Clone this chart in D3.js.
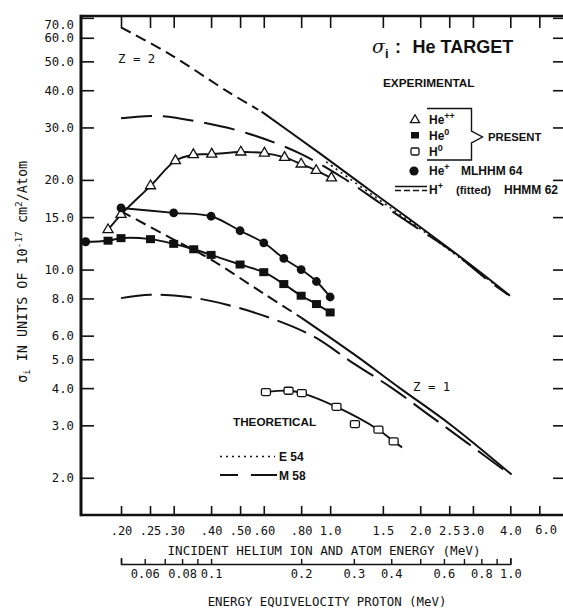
<!DOCTYPE html>
<html>
<head>
<meta charset="utf-8">
<script src="https://cdn.jsdelivr.net/npm/d3@7"></script>
<style>
  html, body { margin: 0; padding: 0; background: #fff; }
  svg { display: block; }
</style>
</head>
<body>
<svg id="chart" width="563" height="609"></svg>
<script>
// ---------- axis ticks ----------
const heliumTicks = [0.20, 0.25, 0.30, 0.40, 0.50, 0.60, 0.80, 1.0, 1.5, 2.0, 2.5, 3.0, 4.0, 5.0];
const heliumTickLabels = [".20", ".25", ".30", ".40", ".50", ".60", ".80", "1.0", "1.5", "2.0", "2.5", "3.0", "4.0", ""];
const heliumEnd = [6.0];
const heliumEndLabel = ["6.0"];
const protonTicks = [0.05, 0.06, 0.07, 0.08, 0.09, 0.1, 0.2, 0.3, 0.4, 0.5, 0.6, 0.7, 0.8, 0.9, 1.0];
const protonTickLabels = ["", "0.06", "", "0.08", "", "0.1", "0.2", "0.3", "0.4", "", "0.6", "", "0.8", "", "1.0"];
const sigmaTicks = [70, 60, 50, 40, 30, 20, 15, 10, 8, 6, 5, 4, 3, 2];
const sigmaTickLabels = ["70.0", "60.0", "50.0", "40.0", "30.0", "20.0", "15.0", "10.0", "8.0", "6.0", "5.0", "4.0", "3.0", "2.0"];

// ---------- experimental cross sections [energy MeV, sigma 1e-17 cm^2] ----------
const heDoublePlus = [[0.181, 13.6], [0.20, 15.3], [0.251, 19.1], [0.304, 23.2], [0.349, 24.3], [0.402, 24.4],
                      [0.503, 24.8], [0.603, 24.6], [0.704, 23.8], [0.80, 22.6], [0.898, 21.5], [1.01, 20.3]];
const heZeroLow = [[0.150, 12.4]];
const heZero = [[0.181, 12.5], [0.20, 12.75], [0.251, 12.65], [0.30, 12.2], [0.35, 11.7], [0.40, 11.2],
                [0.50, 10.4], [0.60, 9.8], [0.70, 8.94], [0.80, 8.17], [0.90, 7.66], [1.0, 7.18]];
const hZero = [[0.61, 3.88], [0.726, 3.92], [0.804, 3.85], [1.05, 3.46], [1.21, 3.03], [1.45, 2.9], [1.63, 2.65]];
const hZeroFit = [[0.61, 3.88], [0.726, 3.92], [0.804, 3.85], [1.05, 3.46], [1.45, 2.9], [1.63, 2.65], [1.74, 2.53]];
const hePlus = [[0.20, 16.1], [0.30, 15.5], [0.40, 15.1], [0.50, 13.5], [0.60, 12.3], [0.70, 10.9],
                [0.80, 10.0], [0.90, 9.12], [1.0, 8.09]];

// ---------- theoretical and fitted curves ----------
const z2Extrapolated = [[0.20, 65.0], [0.288, 53.2], [0.456, 39.5], [0.575, 34.4]];
const z2Fitted = [[0.59, 33.9], [0.926, 24.5], [1.26, 19.5], [1.71, 15.6], [2.94, 10.4], [3.99, 8.17]];
const z1Extrapolated = [[0.20, 15.7], [0.30, 12.6], [0.40, 10.8], [0.60, 8.3], [0.80, 6.9]];
const z1Fitted = [[0.80, 6.9], [1.2, 5.2], [1.71, 4.0], [2.52, 3.02], [4.04, 2.05]];
const m58Z2 = [[0.20, 32.2], [0.266, 32.8], [0.36, 31.4], [0.528, 28.7], [0.788, 24.6], [1.106, 20.3],
               [1.47, 16.7], [1.95, 13.8], [2.56, 11.5], [3.35, 9.24], [3.93, 8.24]];
const m58Z1 = [[0.20, 8.02], [0.251, 8.23], [0.336, 8.09], [0.452, 7.62], [0.63, 6.88], [0.878, 5.97],
               [1.19, 4.86], [1.61, 4.0], [2.13, 3.26], [2.87, 2.62], [3.99, 2.05]];
const e54 = [[0.97, 23.0], [1.5, 16.8], [2.0, 13.7], [3.0, 10.15], [3.95, 8.2]];

// ---------- setup ----------
const INK = "#111";
const MONO = "'DejaVu Sans Mono', monospace";
const SANS = "'Liberation Sans', Arial, sans-serif";
const svg = d3.select("#chart");

const x = d3.scaleLog().domain([0.147, 6.0]).range([81, 563]);
const y = d3.scaleLog().domain([1.5, 71]).range([515, 16]);
const xp = d3.scaleLog().domain([0.05, 1.0]).range([x(0.2), x(4.0)]);

const line = d3.line()
  .x(d => x(d[0])).y(d => y(d[1]))
  .curve(d3.curveCatmullRom.alpha(0.5));

function styleAxis(g, fontSize) {
  g.select(".domain").remove();
  g.selectAll(".tick line").attr("stroke", INK).attr("stroke-width", 1.6);
  g.selectAll(".tick text").attr("fill", INK)
    .style("font-family", MONO).style("font-size", fontSize + "px");
}

// ---------- axes ----------
const axisB = svg.append("g").attr("transform", "translate(0,515)")
  .call(d3.axisBottom(x).tickValues(heliumTicks).tickSize(-9).tickPadding(11)
    .tickFormat((d, i) => heliumTickLabels[i]));
styleAxis(axisB, 12);

svg.append("g").selectAll("text").data(heliumEnd).join("text")
  .attr("x", d => x(d) - 6).attr("y", 534)
  .attr("text-anchor", "end").attr("fill", INK)
  .style("font-family", MONO).style("font-size", "12px")
  .text((d, i) => heliumEndLabel[i]);

const axisT = svg.append("g").attr("transform", "translate(0,16)")
  .call(d3.axisTop(x).tickValues(heliumTicks).tickSize(-12).tickFormat(""));
styleAxis(axisT, 12);

const axisL = svg.append("g").attr("transform", "translate(81,0)")
  .call(d3.axisLeft(y).tickValues(sigmaTicks).tickSize(-13).tickPadding(7)
    .tickFormat((d, i) => sigmaTickLabels[i]));
styleAxis(axisL, 12.3);
axisL.selectAll(".tick text").filter(d => d === 70).attr("dy", "0.85em");

const axisR = svg.append("g").attr("transform", "translate(563,0)")
  .call(d3.axisRight(y).tickValues(sigmaTicks).tickSize(-10).tickFormat(""));
styleAxis(axisR, 12);

// equivelocity proton scale
const axisP = svg.append("g").attr("transform", "translate(0,564)")
  .call(d3.axisBottom(xp).tickValues(protonTicks).tickSize(-5).tickSizeOuter(-6).tickPadding(5)
    .tickFormat((d, i) => protonTickLabels[i]));
axisP.select(".domain").attr("stroke", INK).attr("stroke-width", 1.5).attr("fill", "none");
axisP.selectAll(".tick line").attr("stroke", INK).attr("stroke-width", 1.4);
axisP.selectAll(".tick text").attr("fill", INK).style("font-family", MONO).style("font-size", "12px");

// frame
const frame = svg.append("g").attr("stroke", INK).attr("fill", "none");
frame.append("line").attr("x1", x.range()[0]).attr("x2", x.range()[1] + 2)
  .attr("y1", y.range()[0]).attr("y2", y.range()[0]).attr("stroke-width", 2.6);
frame.append("line").attr("x1", x.range()[0]).attr("x2", x.range()[1] + 2)
  .attr("y1", y.range()[1]).attr("y2", y.range()[1]).attr("stroke-width", 2.6);
frame.append("line").attr("x1", x.range()[0]).attr("x2", x.range()[0])
  .attr("y1", y.range()[1] - 1.3).attr("y2", y.range()[0] + 1.3).attr("stroke-width", 3);

// axis titles
svg.append("text").attr("x", 324).attr("y", 555).attr("text-anchor", "middle")
  .attr("fill", INK).style("font-family", MONO).style("font-size", "12.7px")
  .text("INCIDENT HELIUM ION AND ATOM ENERGY (MeV)");
svg.append("text").attr("x", 327).attr("y", 606).attr("text-anchor", "middle")
  .attr("fill", INK).style("font-family", MONO).style("font-size", "12.4px")
  .text("ENERGY EQUIVELOCITY PROTON (MeV)");

const yt = svg.append("text").attr("transform", "translate(27,272) rotate(-90)")
  .attr("text-anchor", "middle").attr("fill", INK)
  .style("font-family", MONO).style("font-size", "13.4px");
yt.append("tspan").text("σ");
yt.append("tspan").attr("dy", 3).style("font-size", "9.5px").text("i");
yt.append("tspan").attr("dy", -3).text(" IN UNITS OF 10");
yt.append("tspan").attr("dy", -5).style("font-size", "9.5px").text("-17");
yt.append("tspan").attr("dy", 5).text(" cm");
yt.append("tspan").attr("dy", -5).style("font-size", "9.5px").text("2");
yt.append("tspan").attr("dy", 5).text("/Atom");

// ---------- theoretical curves ----------
const curves = svg.append("g").attr("fill", "none").attr("stroke", INK).attr("stroke-width", 2);
curves.append("path").attr("d", line(z2Extrapolated)).attr("stroke-dasharray", "11,6");
curves.append("path").attr("d", line(z2Fitted));
curves.append("path").attr("d", line(z1Extrapolated)).attr("stroke-dasharray", "11,6");
curves.append("path").attr("d", line(z1Fitted));
curves.append("path").attr("d", line(m58Z2)).attr("stroke-dasharray", "31,11");
curves.append("path").attr("d", line(m58Z1)).attr("stroke-dasharray", "31,9");
curves.append("path").attr("d", line(e54)).attr("stroke-dasharray", "2,4").attr("stroke-width", 1.6);

// ---------- experimental curves ----------
const expCurves = svg.append("g").attr("fill", "none").attr("stroke", INK).attr("stroke-width", 1.9);
expCurves.append("path").attr("d", line(heDoublePlus));
expCurves.append("path").attr("d", line(heZeroLow.concat(heZero)));
expCurves.append("path").attr("d", line(hePlus));
expCurves.append("path").attr("d", line(hZeroFit));

// markers
const tri = d3.symbol().type(d3.symbolTriangle).size(44);
const marks = svg.append("g");
marks.selectAll(".tri").data(heDoublePlus).join("path").attr("class", "tri")
  .attr("transform", d => `translate(${x(d[0])},${y(d[1])})`)
  .attr("d", tri).attr("fill", "#fff").attr("stroke", INK).attr("stroke-width", 1.3);
marks.selectAll(".sqf").data(heZero).join("rect").attr("class", "sqf")
  .attr("x", d => x(d[0]) - 4.5).attr("y", d => y(d[1]) - 4).attr("width", 9).attr("height", 8)
  .attr("fill", INK);
marks.selectAll(".dotLow").data(heZeroLow).join("circle").attr("class", "dotLow")
  .attr("cx", d => x(d[0]) + 2).attr("cy", d => y(d[1])).attr("r", 4.5).attr("fill", INK);
marks.selectAll(".dot").data(hePlus).join("circle").attr("class", "dot")
  .attr("cx", d => x(d[0])).attr("cy", d => y(d[1])).attr("r", 4.4).attr("fill", INK);
marks.selectAll(".sqo").data(hZero).join("rect").attr("class", "sqo")
  .attr("x", d => x(d[0]) - 4.5).attr("y", d => y(d[1]) - 3.5).attr("width", 9).attr("height", 7)
  .attr("rx", 1.5).attr("fill", "#fff").attr("stroke", INK).attr("stroke-width", 1.3);

// ---------- annotations ----------
function label(xp_, yp_, txt, size, family, weight) {
  return svg.append("text").attr("x", xp_).attr("y", yp_).attr("fill", INK)
    .style("font-family", family).style("font-size", size + "px")
    .style("font-weight", weight || "normal").text(txt);
}
label(118, 63, "Z = 2", 12.4, MONO);
label(413, 391, "Z = 1", 12.4, MONO);

// title
const title = svg.append("text").attr("x", 372).attr("y", 53).attr("fill", INK)
  .style("font-family", SANS).style("font-weight", "bold").style("font-size", "18px");
title.append("tspan").style("font-family", "'DejaVu Serif', serif").style("font-style", "italic")
  .style("font-weight", "normal").style("font-size", "19px").text("σ");
title.append("tspan").attr("dy", 5).style("font-size", "13px").text("i");
title.append("tspan").attr("x", 395).attr("dy", -5).text(":");
title.append("tspan").attr("x", 412.5).text("He TARGET");

label(383, 87, "EXPERIMENTAL", 11.8, SANS, "bold");

// legend: experimental
const lg = svg.append("g");
lg.append("path").attr("transform", "translate(415,120)").attr("d", d3.symbol().type(d3.symbolTriangle).size(36))
  .attr("fill", "#fff").attr("stroke", INK).attr("stroke-width", 1.3);
lg.append("rect").attr("x", 411).attr("y", 132).attr("width", 8).attr("height", 6.5).attr("fill", INK);
lg.append("rect").attr("x", 411).attr("y", 148).attr("width", 8).attr("height", 7).attr("rx", 1.5)
  .attr("fill", "#fff").attr("stroke", INK).attr("stroke-width", 1.3);
lg.append("circle").attr("cx", 414).attr("cy", 171).attr("r", 4.6).attr("fill", INK);
lg.append("line").attr("x1", 395).attr("x2", 427).attr("y1", 186.5).attr("y2", 186.5)
  .attr("stroke", INK).attr("stroke-width", 1.5);
lg.append("line").attr("x1", 395).attr("x2", 427).attr("y1", 190.5).attr("y2", 190.5)
  .attr("stroke", INK).attr("stroke-width", 1.5).attr("stroke-dasharray", "6,3");

function legendText(xx, yy, base, sup) {
  const t = svg.append("text").attr("x", xx).attr("y", yy).attr("fill", INK)
    .style("font-family", SANS).style("font-weight", "bold").style("font-size", "12px");
  t.append("tspan").text(base);
  t.append("tspan").attr("dy", -5).style("font-size", "9px").text(sup);
  return t;
}
legendText(429, 124, "He", "++");
legendText(429, 140, "He", "0");
legendText(429, 156, "H", "0");
legendText(429, 175, "He", "+");
legendText(429, 194, "H", "+");
label(461, 175, "MLHHM 64", 12, SANS, "bold");
label(456, 194, "(fitted)", 11.3, SANS, "bold");
label(504, 194, "HHMM 62", 12, SANS, "bold");
label(488, 141, "PRESENT", 11.3, SANS, "bold");

// bracket around the present data
svg.append("path")
  .attr("d", "M427,108.5H471.5V131L482.5,137L471.5,143V160H427")
  .attr("fill", "none").attr("stroke", INK).attr("stroke-width", 1.4);

// legend: theoretical
label(233, 426, "THEORETICAL", 11.7, SANS, "bold");
svg.append("line").attr("x1", 220).attr("x2", 275).attr("y1", 456.5).attr("y2", 456.5)
  .attr("stroke", INK).attr("stroke-width", 1.5).attr("stroke-dasharray", "2,4");
svg.append("line").attr("x1", 220).attr("x2", 277).attr("y1", 475).attr("y2", 475)
  .attr("stroke", INK).attr("stroke-width", 1.8).attr("stroke-dasharray", "18,13,30");
label(279, 461, "E 54", 12, SANS, "bold");
label(279, 480, "M 58", 12, SANS, "bold");
</script>
</body>
</html>
